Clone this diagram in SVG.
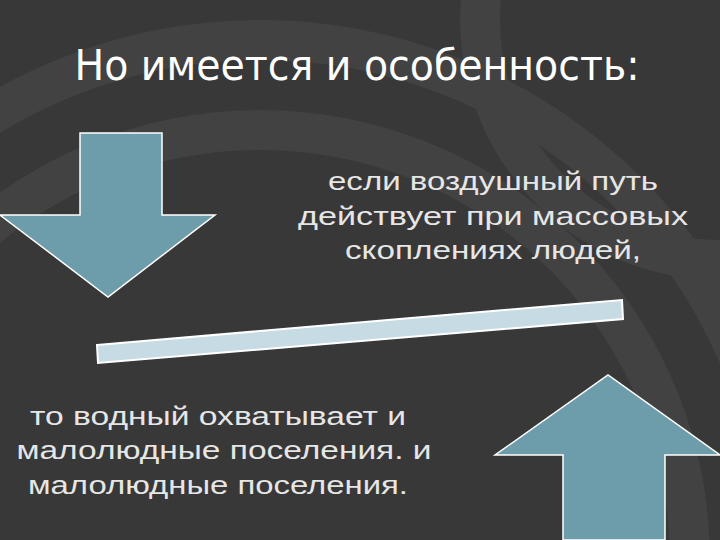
<svg xmlns="http://www.w3.org/2000/svg" width="720" height="540" viewBox="0 0 720 540">
<style>
.t{font-family:"Liberation Sans",Arial,sans-serif;font-size:26px;fill:#e6e6e6;text-anchor:middle;lengthAdjust:spacingAndGlyphs}
.arr{fill:#6d9caa;stroke:#ffffff;stroke-width:1.5}
.ring{fill:none;stroke:#424242;stroke-width:40}
</style>
<rect width="720" height="540" fill="#383838"/>
<g id="background">
<circle class="ring" cx="260" cy="560" r="520"/>
<circle class="ring" cx="260" cy="560" r="430" stroke="#3e3e3e"/>
<circle class="ring" cx="720" cy="20" r="240" stroke="#3f3f3f"/>
</g>
<g id="title"><text x="357" y="80" font-family="'DejaVu Sans Condensed','DejaVu Sans',sans-serif" font-size="42" fill="#ffffff" text-anchor="middle" textLength="565" lengthAdjust="spacingAndGlyphs">Но имеется и особенность:</text></g>
<g id="arrow-down"><polygon class="arr" points="80,133 162,133 162,215 215,215 108,297 0,215 80,215"/></g>
<g id="arrow-up"><polygon class="arr" points="563,540 563,455 495,455 608,375 720,455 665,455 665,540"/></g>
<g id="bar"><polygon points="97,345 622,300 623,319 98,363" fill="#c7dbe4" stroke="#ffffff" stroke-width="2"/></g>
<g id="text-top">
<text class="t" x="493" y="190" textLength="330" lengthAdjust="spacingAndGlyphs">если воздушный путь</text>
<text class="t" x="493" y="225" textLength="390" lengthAdjust="spacingAndGlyphs">действует при массовых</text>
<text class="t" x="493" y="259" textLength="296" lengthAdjust="spacingAndGlyphs">скоплениях людей,</text>
</g>
<g id="text-bottom">
<text class="t" x="218" y="425" textLength="376" lengthAdjust="spacingAndGlyphs">то водный охватывает и</text>
<text class="t" x="224" y="459" textLength="415" lengthAdjust="spacingAndGlyphs">малолюдные поселения. и</text>
<text class="t" x="218" y="494" textLength="380" lengthAdjust="spacingAndGlyphs">малолюдные поселения.</text>
</g>
</svg>
